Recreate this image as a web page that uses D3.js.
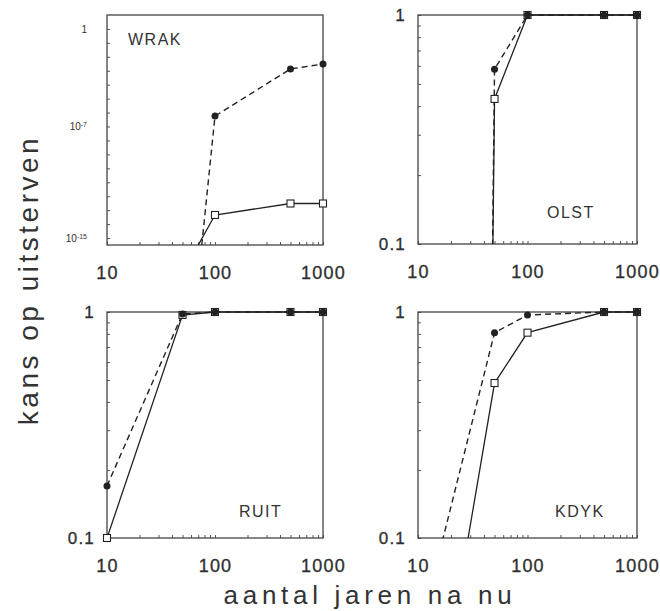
<!DOCTYPE html>
<html>
<head>
<meta charset="utf-8">
<script src="https://cdn.jsdelivr.net/npm/d3@7"></script>
<style>
  body { margin: 0; background: #fff; }
  text { font-family: "Liberation Sans", Arial, sans-serif; fill: #333; }
</style>
</head>
<body>
<svg id="chart"></svg>
<script>
// jaren na nu (x) en kans op uitsterven per populatie
const years = [10, 50, 100, 500, 1000];
const panelNames = ["WRAK", "OLST", "RUIT", "KDYK"];
// gestreept = gevulde cirkel, doorgetrokken = open vierkant
const wrakDashed = [1e-40, 1e-29, 5.6e-7, 1.35e-3, 3e-3];
const wrakSolid = [1e-40, 3e-18, 4.5e-14, 3e-13, 3e-13];
const olstDashed = [1e-30, 0.58, 1, 1, 1];
const olstSolid = [1e-30, 0.43, 1, 1, 1];
const ruitDashed = [0.17, 0.98, 1, 1, 1];
const ruitSolid = [0.1, 0.97, 1, 1, 1];
const kdykDashed = [0.036, 0.81, 0.97, 1, 1];
const kdykSolid = [0.005, 0.485, 0.81, 1, 1];

const xTicks = [10, 100, 1000];
const xMinor = [20, 30, 40, 50, 60, 70, 80, 90, 200, 300, 400, 500, 600, 700, 800, 900];
const wrakYTicks = [1, 1e-7, 1e-15];
const probTicks = [0.1, 1];
const probMinor = [0.2, 0.3, 0.4, 0.5, 0.6, 0.7, 0.8, 0.9];

const width = 660;
const height = 611;

let svg = d3.select("#chart").attr("width", width).attr("height", height);

let panels = [
  { name: panelNames[0], dashed: wrakDashed, solid: wrakSolid, left: 107, right: 323, top: 15, bottom: 245,
    yDomain: [Math.pow(10, -15.5), 10], labelX: 128, labelY: 45, wrak: true },
  { name: panelNames[1], dashed: olstDashed, solid: olstSolid, left: 418, right: 637, top: 15, bottom: 244,
    yDomain: [0.1, 1], labelX: 547, labelY: 218 },
  { name: panelNames[2], dashed: ruitDashed, solid: ruitSolid, left: 107, right: 323, top: 312, bottom: 538,
    yDomain: [0.1, 1], labelX: 239, labelY: 517 },
  { name: panelNames[3], dashed: kdykDashed, solid: kdykSolid, left: 418, right: 637, top: 312, bottom: 538,
    yDomain: [0.1, 1], labelX: 555, labelY: 517 }
];

let drawPanel = (p, i) => {
  let xScale = d3.scaleLog().domain([10, 1000]).range([p.left, p.right]);
  let yScale = d3.scaleLog().domain(p.yDomain).range([p.bottom, p.top]);

  let g = svg.append("g");

  // x-as: kleine streepjes naar binnen + labels
  let xAxis = d3.axisBottom(xScale)
    .tickValues(xTicks.concat(xMinor))
    .tickSizeInner(-3)
    .tickSizeOuter(0)
    .tickPadding(21)
    .tickFormat((d) => (xTicks.includes(d) ? d : ""));
  let gx = g.append("g")
    .attr("transform", "translate(0," + p.bottom + ")")
    .call(xAxis);
  gx.select(".domain").remove();
  gx.selectAll("line").attr("stroke", "#555");
  gx.selectAll("text")
    .style("font-size", "18px")
    .style("letter-spacing", "1.2px")
    .attr("fill", "#222")
    .attr("stroke", "#222")
    .attr("stroke-width", 0.3);

  // y-as
  let yVals, yMinorVals;
  if (p.wrak) {
    yVals = wrakYTicks;
    yMinorVals = d3.range(-14, 0).filter((e) => e !== -7).map((e) => Math.pow(10, e));
  } else {
    yVals = probTicks;
    yMinorVals = probMinor;
  }
  let yAxis = d3.axisLeft(yScale)
    .tickValues(yVals.concat(yMinorVals))
    .tickSizeInner(-3)
    .tickSizeOuter(0)
    .tickPadding(p.wrak ? 20 : 12)
    .tickFormat((d) => (yVals.includes(d) ? d : ""));
  let gy = g.append("g")
    .attr("transform", "translate(" + p.left + ",0)")
    .call(yAxis);
  gy.select(".domain").remove();
  gy.selectAll("line").attr("stroke", "#555");
  gy.selectAll("text")
    .style("font-size", "17px")
    .style("letter-spacing", "1.2px")
    .attr("fill", "#222")
    .attr("stroke", "#222")
    .attr("stroke-width", 0.3);

  if (p.wrak) {
    gy.selectAll("text").each(function (d) {
      let t = d3.select(this);
      if (!yVals.includes(d)) return;
      t.text(null).style("font-size", "10px").style("letter-spacing", "0px").attr("stroke", null);
      if (d === 1) {
        t.text("1");
      } else {
        let e = Math.round(Math.log10(d));
        t.append("tspan").text("10");
        t.append("tspan").attr("dy", "-0.4em").style("font-size", "7px").text(e);
      }
    });
  }

  // kader
  g.append("rect")
    .attr("x", p.left)
    .attr("y", p.top)
    .attr("width", p.right - p.left)
    .attr("height", p.bottom - p.top)
    .attr("fill", "none")
    .attr("stroke", "#444")
    .attr("stroke-width", 1.3);

  // clip voor lijnen
  let clipId = "clip" + i;
  svg.append("clipPath").attr("id", clipId)
    .append("rect")
    .attr("x", p.left)
    .attr("y", p.top - 2)
    .attr("width", p.right - p.left + 2)
    .attr("height", p.bottom - p.top + 2);

  let line = d3.line()
    .x((d) => xScale(d[0]))
    .y((d) => yScale(d[1]));

  let dashedPts = years.map((y, k) => [y, p.dashed[k]]);
  let solidPts = years.map((y, k) => [y, p.solid[k]]);

  g.append("path")
    .datum(dashedPts)
    .attr("clip-path", "url(#" + clipId + ")")
    .attr("d", line)
    .attr("fill", "none")
    .attr("stroke", "#222")
    .attr("stroke-width", 1.4)
    .attr("stroke-dasharray", "6,4");

  g.append("path")
    .datum(solidPts)
    .attr("clip-path", "url(#" + clipId + ")")
    .attr("d", line)
    .attr("fill", "none")
    .attr("stroke", "#222")
    .attr("stroke-width", 1.3);

  let minY = p.yDomain[0] * 0.999;

  g.selectAll(".sq")
    .data(solidPts.filter((d) => d[1] >= minY))
    .enter()
    .append("rect")
    .attr("class", "sq")
    .attr("x", (d) => xScale(d[0]) - 3.5)
    .attr("y", (d) => yScale(d[1]) - 3.5)
    .attr("width", 7)
    .attr("height", 7)
    .attr("fill", "#fff")
    .attr("stroke", "#222")
    .attr("stroke-width", 1.1);

  g.selectAll(".dot")
    .data(dashedPts.filter((d) => d[1] >= minY))
    .enter()
    .append("circle")
    .attr("class", "dot")
    .attr("cx", (d) => xScale(d[0]))
    .attr("cy", (d) => yScale(d[1]))
    .attr("r", 3.5)
    .attr("fill", "#222");

  g.append("text")
    .attr("x", p.labelX)
    .attr("y", p.labelY)
    .style("font-size", "16px")
    .style("letter-spacing", "1.5px")
    .text(p.name);
};

panels.forEach(drawPanel);

// astitels
svg.append("text")
  .attr("x", 370)
  .attr("y", 604)
  .attr("text-anchor", "middle")
  .style("font-size", "26px")
  .style("letter-spacing", "4.7px")
  .attr("fill", "#444")
  .text("aantal jaren na nu");

svg.append("text")
  .attr("transform", "translate(38,280) rotate(-90)")
  .attr("text-anchor", "middle")
  .style("font-size", "28px")
  .style("letter-spacing", "3.5px")
  .attr("fill", "#444")
  .text("kans op uitsterven");
</script>
</body>
</html>
